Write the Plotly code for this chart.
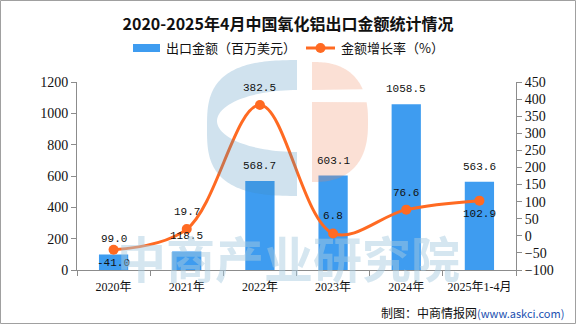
import numpy as np
import plotly.graph_objects as go

categories = ["2020年", "2021年", "2022年", "2023年", "2024年", "2025年1-4月"]
export_value = [99.0, 118.5, 568.7, 603.1, 1058.5, 563.6]
growth_rate = [-41.0, 19.7, 382.5, 6.8, 76.6, 102.9]
growth_label_side = ["bottom", "top", "top", "top", "top", "bottom"]
series_names = ["出口金额（百万美元）", "金额增长率（%）"]

BAR_COLOR = "#3E9CF0"
LINE_COLOR = "#FF6A22"
CJK = "Noto Sans CJK SC"
NUM = "Liberation Serif"
MONO = "Liberation Mono"

# plot area in pixels
W, H = 576, 324
L, R, T, B = 77, 516, 82, 270
PW, PH = R - L, B - T


def px(x):
    return (x - L) / PW


def py(y):
    return (B - y) / PH


def path_from(points):
    pts = [f"{px(x):.5f},{py(y):.5f}" for x, y in points]
    return "M" + " L".join(pts) + " Z"


def superellipse(cx, cy, rx, ry, n, t):
    c, s = np.cos(t), np.sin(t)
    x = cx + rx * np.sign(c) * np.abs(c) ** (2 / n)
    y = cy + ry * np.sign(s) * np.abs(s) ** (2 / n)
    return x, y


fig = go.Figure()

fig.add_trace(go.Bar(
    x=categories, y=export_value, name=series_names[0],
    marker=dict(color=BAR_COLOR, line=dict(width=0)), width=0.4,
    yaxis="y", showlegend=False,
))
fig.add_trace(go.Scatter(
    x=categories, y=growth_rate, name=series_names[1],
    mode="lines+markers", line=dict(color=LINE_COLOR, width=3, shape="spline", smoothing=1.0),
    marker=dict(color=LINE_COLOR, size=10), yaxis="y2", showlegend=False,
))

annotations = []
for c, v in zip(categories, export_value):
    annotations.append(dict(x=c, y=v, xref="x", yref="y", text=f"{v:.1f}", showarrow=False,
                            yshift=15, font=dict(family=MONO, size=11, color="#111")))
for c, v, side in zip(categories, growth_rate, growth_label_side):
    annotations.append(dict(x=c, y=v, xref="x", yref="y2", text=f"{v:.1f}", showarrow=False,
                            yshift=17 if side == "top" else -13,
                            font=dict(family=MONO, size=11, color="#111")))

# watermark text
annotations.append(dict(x=px(288), y=py(256), xref="paper", yref="paper",
                        xanchor="center", yanchor="middle",
                        text="中商产业研究院", showarrow=False,
                        font=dict(family=CJK, size=49, color="rgba(168,202,224,0.48)", weight=700)))
# footer
annotations.append(dict(x=px(566), y=py(312), xref="paper", yref="paper", xanchor="right",
                        yanchor="middle", showarrow=False,
                        text="制图：中商情报网<span style='font-size:11px;color:#2050B0'>(www.askci.com)</span>",
                        font=dict(family=CJK, size=12, color="#111")))
# custom legend texts
annotations.append(dict(x=px(164), y=py(48), xref="paper", yref="paper", xanchor="left",
                        yanchor="middle", showarrow=False, text=series_names[0],
                        font=dict(family=CJK, size=13, color="#111")))
annotations.append(dict(x=px(339), y=py(48), xref="paper", yref="paper", xanchor="left",
                        yanchor="middle", showarrow=False, text=series_names[1],
                        font=dict(family=CJK, size=13, color="#111")))

shapes = []
# custom legend symbols
shapes.append(dict(type="rect", xref="paper", yref="paper", x0=px(133), x1=px(160),
                   y0=py(52), y1=py(44), fillcolor=BAR_COLOR, line=dict(width=0)))
shapes.append(dict(type="line", xref="paper", yref="paper", x0=px(306), x1=px(335),
                   y0=py(48), y1=py(48), line=dict(color=LINE_COLOR, width=3)))
shapes.append(dict(type="circle", xref="paper", yref="paper", x0=px(315.5), x1=px(325.5),
                   y0=py(53), y1=py(43), fillcolor=LINE_COLOR, line=dict(width=0)))
# logo: blue "C"
t = np.linspace(np.pi / 2, 3 * np.pi / 2, 120)
bx, by = superellipse(304, 128, 97, 68, 3, t)
keep = bx <= 297
outer = list(zip(bx[keep], by[keep]))
th = np.linspace(np.pi / 2, 3 * np.pi / 2, 60)
hx = 297 + 80 * np.cos(th)
hy = 121 + 31 * np.sin(th)
hollow = list(zip(hx, hy))
blue_pts = [(297, outer[0][1])] + outer + [(297, outer[-1][1]), (297, 152)] + hollow + [(297, 90)]
shapes.append(dict(type="path", xref="paper", yref="paper", path=path_from(blue_pts),
                   fillcolor="rgba(69,140,188,0.25)", line=dict(width=0), layer="above"))
# logo: peach piece, split by white band
tp = np.linspace(-np.pi / 2, np.pi / 2, 120)
rx_, ry_ = superellipse(312, 122, 56, 60, 2.5, tp)
upper = [(x, y) for x, y in zip(rx_, ry_) if y <= 90]
lower = [(x, y) for x, y in zip(rx_, ry_) if y >= 102]
up_pts = [(312, upper[0][1])] + upper + [(312, 90)]
lo_pts = [(312, 102)] + lower + [(312, lower[-1][1])]
for pts in (up_pts, lo_pts):
    shapes.append(dict(type="path", xref="paper", yref="paper", path=path_from(pts),
                       fillcolor="rgba(239,132,89,0.25)", line=dict(width=0), layer="above"))
# outer frame
shapes.append(dict(type="rect", xref="paper", yref="paper",
                   x0=px(0.5), x1=px(575.5), y0=py(323.5), y1=py(0.5),
                   line=dict(color="#A0A0A0", width=1), fillcolor="rgba(0,0,0,0)", layer="above"))

axis_common = dict(showgrid=False, zeroline=False, showline=True, linecolor="#8C8C8C", linewidth=1,
                   ticks="outside", ticklen=5, tickcolor="#8C8C8C",
                   tickfont=dict(family=NUM, size=14, color="#111"))

fig.update_layout(
    width=W, height=H,
    margin=dict(l=L, r=W - R, t=T, b=H - B),
    paper_bgcolor="white", plot_bgcolor="white",
    title=dict(text="2020-2025年4月中国氧化铝出口金额统计情况", x=0.5, xref="container", xanchor="center",
               y=1 - 24 / H, yref="container", yanchor="middle",
               font=dict(family=CJK, size=16, color="#111", weight=700)),
    xaxis=dict(showgrid=False, zeroline=False, showline=True, linecolor="#8C8C8C", linewidth=1,
               ticks="outside", ticklen=5, tickcolor="#8C8C8C", tickson="boundaries",
               ticklabelstandoff=6,
               tickfont=dict(family=NUM + ", " + CJK, size=12, color="#111")),
    yaxis=dict(range=[0, 1200], dtick=200, **axis_common),
    yaxis2=dict(range=[-100, 450], dtick=50, overlaying="y", side="right", **axis_common),
    annotations=annotations,
    shapes=shapes,
    showlegend=False,
)

fig.write_html("out.html")
